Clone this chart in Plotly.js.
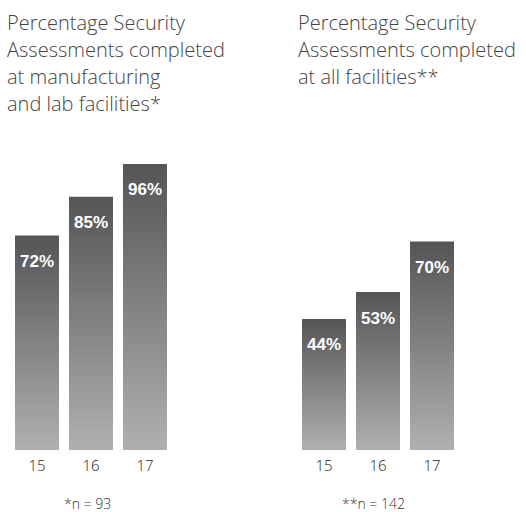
<!DOCTYPE html>
<html><head><meta charset="utf-8">
<script src="https://cdn.plot.ly/plotly-3.0.1.min.js"></script>
<style>html,body{margin:0;padding:0;background:#fff}#chart{width:526px;height:512px}</style>
</head><body><div id="chart"></div>
<script>
const years = ['15', '16', '17'];
const mfgValues = [72, 85, 96];
const allValues = [44, 53, 70];
const leftTitleLines = ['Percentage Security', 'Assessments completed', 'at manufacturing', 'and lab facilities*'];
const rightTitleLines = ['Percentage Security', 'Assessments completed', 'at all facilities**'];
const leftNote = '*n = 93';
const rightNote = '**n = 142';

const labelFont = {family: 'Liberation Sans, Arial, sans-serif', size: 17, color: '#ffffff', weight: 'bold'};
const titleFont = {family: 'Open Sans, Liberation Sans, sans-serif', size: 20, color: '#444444', weight: 300};

function barTrace(vals, xa) {
  return {type: 'bar', x: years, y: vals, xaxis: xa, yaxis: 'y',
    marker: {color: '#808083', line: {width: 0}}, hoverinfo: 'none', showlegend: false};
}

const annotations = [];
function addLabels(vals, xa) {
  vals.forEach((v, i) => annotations.push({xref: xa, yref: 'y', x: i, y: v, yshift: -26,
    text: v + '%', showarrow: false, font: labelFont, xanchor: 'center', yanchor: 'middle'}));
}
addLabels(mfgValues, 'x');
addLabels(allValues, 'x2');
function addTitle(lines, x) {
  lines.forEach((t, i) => annotations.push({xref: 'paper', yref: 'paper', x: x, y: 1 - (22 + 27 * i) / 512,
    text: t, showarrow: false, font: titleFont, xanchor: 'left', yanchor: 'middle'}));
}
addTitle(leftTitleLines, 5 / 526);
addTitle(rightTitleLines, 296 / 526);
const noteFont = {family: 'Open Sans, Liberation Sans, sans-serif', size: 14, color: '#333333', weight: 300};
annotations.push({xref: 'paper', yref: 'paper', x: 87 / 526, y: 1 - 503 / 512, text: leftNote, showarrow: false, font: noteFont, xanchor: 'center', yanchor: 'middle'});
annotations.push({xref: 'paper', yref: 'paper', x: 373 / 526, y: 1 - 503 / 512, text: rightNote, showarrow: false, font: noteFont, xanchor: 'center', yanchor: 'middle'});

const xcommon = {type: 'category', range: [-0.5, 2.5], showgrid: false, zeroline: false, showline: false,
  ticks: '', ticklabelstandoff: 5, tickfont: {family: 'Open Sans, Liberation Sans, sans-serif', size: 15, color: '#222222', weight: 300}, fixedrange: true};

const layout = {
  width: 526, height: 512, margin: {l: 0, r: 0, t: 0, b: 0},
  paper_bgcolor: '#ffffff', plot_bgcolor: '#ffffff', bargap: 10 / 54,
  xaxis: Object.assign({}, xcommon, {domain: [10 / 526, 172 / 526], anchor: 'y'}),
  xaxis2: Object.assign({}, xcommon, {domain: [297 / 526, 459 / 526], anchor: 'y'}),
  yaxis: {range: [0, 100], domain: [62 / 512, 360 / 512], visible: false, fixedrange: true},
  annotations: annotations
};

Plotly.newPlot('chart', [barTrace(mfgValues, 'x'), barTrace(allValues, 'x2')], layout, {displayModeBar: false, staticPlot: true}).then(gd => {
  const svg = gd.querySelector('.main-svg');
  const ns = 'http://www.w3.org/2000/svg';
  let defs = svg.querySelector('defs');
  if (!defs) { defs = document.createElementNS(ns, 'defs'); svg.insertBefore(defs, svg.firstChild); }
  const g = document.createElementNS(ns, 'linearGradient');
  g.setAttribute('id', 'barGrad'); g.setAttribute('x1', '0'); g.setAttribute('y1', '0'); g.setAttribute('x2', '0'); g.setAttribute('y2', '1');
  [['0', '#555557'], ['1', '#afb0b2']].forEach(([o, c]) => {
    const s = document.createElementNS(ns, 'stop'); s.setAttribute('offset', o); s.setAttribute('stop-color', c); g.appendChild(s);
  });
  defs.appendChild(g);
  gd.querySelectorAll('.bars .point path').forEach(p => { p.style.fill = 'url(#barGrad)'; });
});
</script></body></html>
